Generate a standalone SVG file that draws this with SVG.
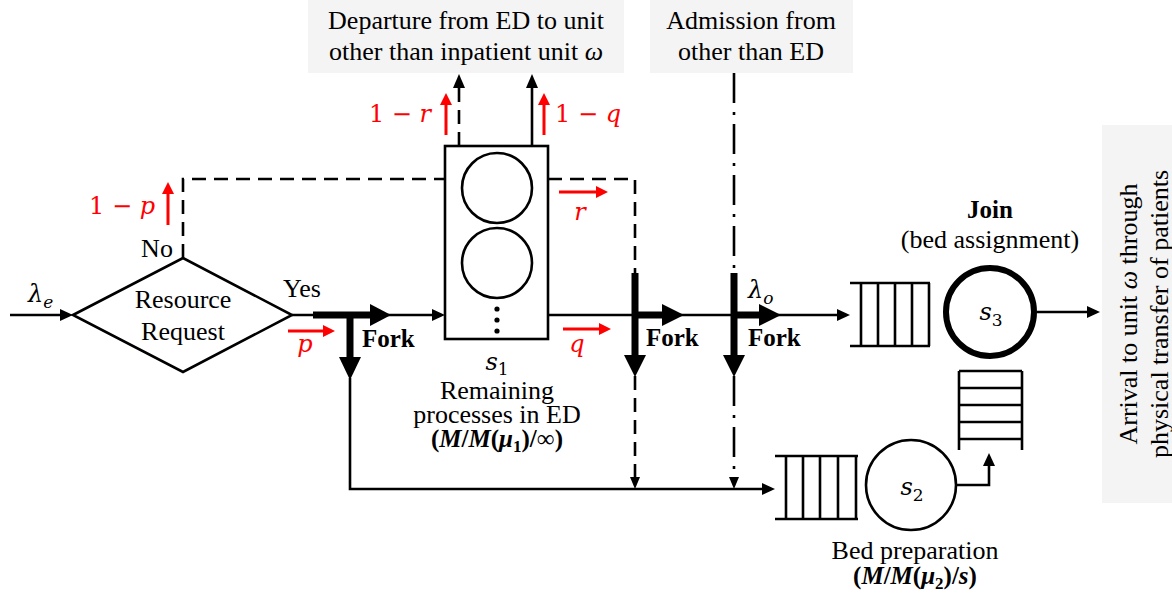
<svg xmlns="http://www.w3.org/2000/svg" width="1172" height="598" viewBox="0 0 1172 598">
<style>
.ln{fill:none;stroke:#000;stroke-width:2.6}
.dash{fill:none;stroke:#000;stroke-width:2.6;stroke-dasharray:14 8}
.dd{fill:none;stroke:#000;stroke-width:2.6;stroke-dasharray:30 9 3 9}
.thick{fill:none;stroke:#000;stroke-width:7}
.ah{fill:#000}
.red{fill:none;stroke:#f00;stroke-width:3}
.rah{fill:#f00}
.t{font-family:"Liberation Serif","Times New Roman",serif;font-size:26px;fill:#000}
.b{font-family:"Liberation Serif","Times New Roman",serif;font-size:25px;font-weight:bold;fill:#000}
.m{font-family:"DejaVu Serif","Liberation Serif",serif;font-size:24px;fill:#000}
.mr{font-family:"DejaVu Serif","Liberation Serif",serif;font-size:24px;fill:#f00}
.i{font-style:italic}
.bg{fill:#f4f4f4}
</style>

<g id="label-departure">
<rect class="bg" x="308" y="0" width="316" height="73"/>
<text class="t" text-anchor="middle"><tspan x="466" y="29">Departure from ED to unit</tspan><tspan x="466" y="60">other than inpatient unit <tspan font-style="italic">ω</tspan></tspan></text>
</g>

<g id="label-admission">
<rect class="bg" x="650" y="0" width="203" height="73"/>
<text class="t" text-anchor="middle"><tspan x="751" y="29">Admission from</tspan><tspan x="751" y="60">other than ED</tspan></text>
</g>

<g id="label-arrival">
<rect class="bg" x="1102" y="125" width="70" height="378"/>
<text class="t" transform="translate(1137,314) rotate(-90)" text-anchor="middle"><tspan x="0" y="0">Arrival to unit <tspan font-style="italic">ω</tspan> through</tspan><tspan x="0" y="31">physical transfer of patients</tspan></text>
</g>

<g id="connectors">
<path class="ln" d="M10,315 H61"/>
<polygon class="ah" points="60,309 73,315 60,321"/>
<path class="ln" d="M292,315 H434"/>
<polygon class="ah" points="432,309 445,315 432,321"/>
<path class="dash" d="M183,258 V179 H445"/>
<path class="ln" d="M350,378 V489 H763"/>
<polygon class="ah" points="762,483 775,489 762,495"/>
<path class="dash" d="M459,146 V87"/>
<polygon class="ah" points="453,88 459,74 465,88"/>
<path class="ln" d="M532,146 V87"/>
<polygon class="ah" points="526,88 532,74 538,88"/>
<path class="dash" d="M548,179 H635 V273"/>
<path class="ln" d="M548,315 H838"/>
<polygon class="ah" points="837,309 850,315 837,321"/>
<path class="dash" d="M635,376 V478"/>
<polygon class="ah" points="630,477 635,489 640,477"/>
<path class="dd" d="M734,73 V273"/>
<path class="dd" d="M734,376 V478"/>
<polygon class="ah" points="729,477 734,489 739,477"/>
<path class="ln" d="M956,485 H989 V465"/>
<polygon class="ah" points="983,466 989,453 995,466"/>
<path class="ln" d="M1037,312 H1088"/>
<polygon class="ah" points="1087,306 1100,312 1087,318"/>
</g>

<g id="fork1">
<path class="thick" d="M313,315 H372 M350,315 V360"/>
<polygon class="ah" points="370,304 391,315 370,326"/>
<polygon class="ah" points="339,357 350,380 361,357"/>
<text class="b" x="362" y="347">Fork</text>
</g>

<g id="fork2">
<path class="thick" d="M635,273 V357 M635,315 H665"/>
<polygon class="ah" points="624,355 635,377 646,355"/>
<polygon class="ah" points="662,304 684,315 662,326"/>
<text class="b" x="646" y="346">Fork</text>
</g>

<g id="fork3">
<path class="thick" d="M734,273 V357 M734,315 H762"/>
<polygon class="ah" points="723,355 734,377 745,355"/>
<polygon class="ah" points="759,304 781,315 759,326"/>
<text class="b" x="748" y="346">Fork</text>
<text class="m i" x="748" y="298">λ<tspan font-size="17" dy="6">o</tspan></text>
</g>

<g id="node-decision">
<polygon class="ln" points="73,315 183,258 292,315 183,372"/>
<text class="t" text-anchor="middle"><tspan x="183" y="308">Resource</tspan><tspan x="183" y="340">Request</tspan></text>
<text class="t" x="157" y="257" text-anchor="middle">No</text>
<text class="t" x="302" y="297" text-anchor="middle">Yes</text>
<text class="m i" x="28" y="302">λ<tspan font-size="17" dy="6">e</tspan></text>
</g>

<g id="prob-labels">
<path class="red" d="M168,225 V192"/>
<polygon class="rah" points="162,194 168,182 174,194"/>
<text class="mr" x="155" y="214" text-anchor="end">1 − <tspan font-style="italic">p</tspan></text>
<path class="red" d="M288,331 H324"/>
<polygon class="rah" points="323,325 335,331 323,337"/>
<text class="mr i" x="305" y="352" text-anchor="middle">p</text>
<path class="red" d="M446,135 V104"/>
<polygon class="rah" points="440,105 446,93 452,105"/>
<text class="mr" x="431" y="122" text-anchor="end">1 − <tspan font-style="italic">r</tspan></text>
<path class="red" d="M544,135 V104"/>
<polygon class="rah" points="538,105 544,93 550,105"/>
<text class="mr" x="555" y="122">1 − <tspan font-style="italic">q</tspan></text>
<path class="red" d="M559,192 H597"/>
<polygon class="rah" points="596,186 608,192 596,198"/>
<text class="mr i" x="580" y="220" text-anchor="middle">r</text>
<path class="red" d="M563,329 H600"/>
<polygon class="rah" points="599,323 611,329 599,335"/>
<text class="mr i" x="577" y="352" text-anchor="middle">q</text>
</g>

<g id="node-s1">
<rect class="ln" x="445" y="146" width="103" height="193"/>
<circle class="ln" cx="497" cy="188" r="35"/>
<circle class="ln" cx="497" cy="263" r="35"/>
<circle class="ah" cx="497" cy="309" r="2.6"/>
<circle class="ah" cx="497" cy="320" r="2.6"/>
<circle class="ah" cx="497" cy="331" r="2.6"/>
<text class="m i" x="497" y="370" text-anchor="middle">s<tspan font-style="normal" font-size="17" dy="5">1</tspan></text>
<text class="t" text-anchor="middle"><tspan x="497" y="399">Remaining</tspan><tspan x="497" y="423">processes in ED</tspan><tspan x="497" y="447" font-weight="bold" font-size="25">(<tspan font-style="italic">M</tspan>/<tspan font-style="italic">M</tspan>(<tspan font-style="italic">μ</tspan><tspan font-size="17" dy="5">1</tspan><tspan dy="-5">)/</tspan><tspan font-weight="normal">∞</tspan>)</tspan></text>
</g>

<g id="node-queue3">
<path class="ln" d="M850,283 H930 M850,346 H930 M861,283 V346 M878,283 V346 M895,283 V346 M912,283 V346 M929,283 V346"/>
</g>

<g id="node-s3">
<circle cx="990" cy="312" r="44" fill="none" stroke="#000" stroke-width="6"/>
<text class="m i" x="991" y="320" text-anchor="middle">s<tspan font-style="normal" font-size="17" dy="6">3</tspan></text>
<text class="t" text-anchor="middle"><tspan x="990" y="218" font-weight="bold" font-size="25">Join</tspan><tspan x="990" y="248">(bed assignment)</tspan></text>
</g>

<g id="node-queue-join">
<path class="ln" d="M959,371 V450 M1022,371 V450 M959,371 H1022 M959,388 H1022 M959,405 H1022 M959,422 H1022 M959,439 H1022"/>
</g>

<g id="node-queue2">
<path class="ln" d="M775,456 H858 M775,519 H858 M786,456 V519 M803,456 V519 M820,456 V519 M838,456 V519 M856,456 V519"/>
</g>

<g id="node-s2">
<circle class="ln" cx="911" cy="485" r="45"/>
<text class="m i" x="912" y="495" text-anchor="middle">s<tspan font-style="normal" font-size="17" dy="6">2</tspan></text>
<text class="t" text-anchor="middle"><tspan x="915" y="559">Bed preparation</tspan><tspan x="915" y="584" font-weight="bold" font-size="25">(<tspan font-style="italic">M</tspan>/<tspan font-style="italic">M</tspan>(<tspan font-style="italic">μ</tspan><tspan font-size="17" dy="5">2</tspan><tspan dy="-5">)/</tspan><tspan font-style="italic">s</tspan>)</tspan></text>
</g>
</svg>
